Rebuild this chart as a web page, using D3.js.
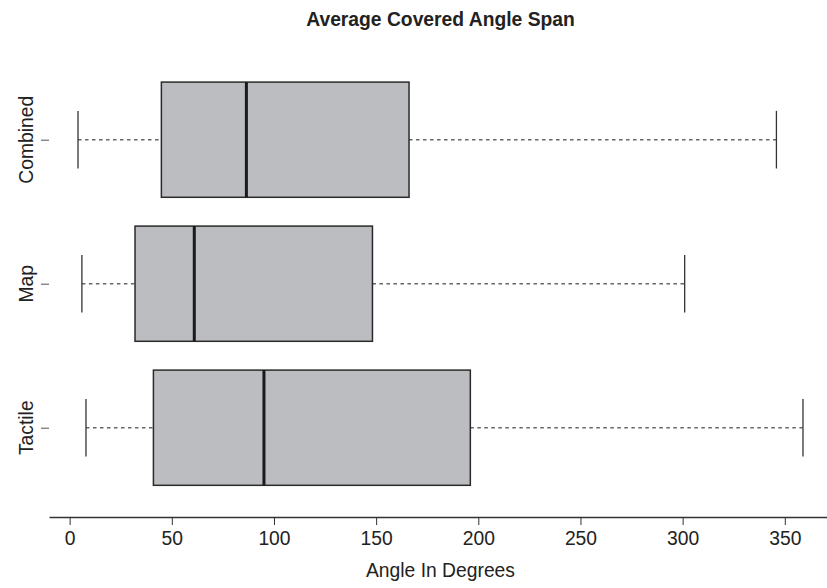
<!DOCTYPE html>
<html>
<head>
  <meta charset="utf-8">
  <script src="https://d3js.org/d3.v7.min.js"></script>
  <style>
    body { margin: 0; background: #fff; }
    text { font-family: "Liberation Sans", Arial, sans-serif; fill: #222; }
    .x.axis .domain { stroke: #333; stroke-width: 1.3px; }
    .x.axis line { stroke: #333; }
    .y.axis line { stroke: #555; }
    .y.axis .domain { stroke: none; }
  </style>
</head>
<body>
  <svg id="chart" width="827" height="588"></svg>
  <script>
    // data, bottom group first
    const categories = ["Tactile", "Map", "Combined"];
    const lowWhisker = [8.0, 6.0, 4.1];
    const q1 = [41.0, 32.0, 44.9];
    const median = [95.1, 61.0, 86.5];
    const q3 = [196.1, 148.2, 166.1];
    const highWhisker = [358.9, 301.0, 345.9];
    const xTicks = [0, 50, 100, 150, 200, 250, 300, 350];

    const svg = d3.select("svg#chart");
    const plot = { left: 49, right: 832, top: 50.4, bottom: 517 };

    const x = d3.scaleLinear().domain([-10.1, 373.1]).range([plot.left, plot.right]);
    const y = d3.scaleLinear().domain([0.38, 3.62]).range([plot.bottom, plot.top]);
    const boxWex = 0.8;

    const data = categories.map((c, i) => ({
      name: c, pos: i + 1,
      lo: lowWhisker[i], q1: q1[i], med: median[i], q3: q3[i], hi: highWhisker[i]
    }));

    // x axis
    svg.append("g")
      .attr("class", "x axis")
      .attr("transform", "translate(0," + plot.bottom + ")")
      .call(d3.axisBottom(x).tickValues(xTicks).tickSize(8).tickPadding(6).tickSizeOuter(0))
      .selectAll("text")
      .style("font-size", "19.3px")
      .style("fill", "#222");

    // y axis ticks only
    const yAxis = svg.append("g")
      .attr("class", "y axis")
      .attr("transform", "translate(" + plot.left + ",0)")
      .call(d3.axisLeft(y).tickValues(data.map(d => d.pos)).tickSize(8).tickFormat(""));

    svg.selectAll("text.ylab").data(data)
      .join("text")
      .attr("class", "ylab")
      .attr("transform", d => "translate(33," + y(d.pos) + ") rotate(-90)")
      .attr("text-anchor", "middle")
      .style("font-size", "19.3px")
      .text(d => d.name);

    const groups = svg.append("g").attr("id", "boxes")
      .selectAll("g").data(data).join("g");

    // dashed whiskers
    groups.append("line")
      .attr("x1", d => x(d.lo)).attr("x2", d => x(d.q1))
      .attr("y1", d => y(d.pos)).attr("y2", d => y(d.pos))
      .style("stroke", "#666").style("stroke-width", 1.5)
      .style("stroke-dasharray", "3.5,3.5");
    groups.append("line")
      .attr("x1", d => x(d.q3)).attr("x2", d => x(d.hi))
      .attr("y1", d => y(d.pos)).attr("y2", d => y(d.pos))
      .style("stroke", "#666").style("stroke-width", 1.5)
      .style("stroke-dasharray", "3.5,3.5");

    // staples
    ["lo", "hi"].forEach(k => {
      groups.append("line")
        .attr("x1", d => x(d[k])).attr("x2", d => x(d[k]))
        .attr("y1", d => y(d.pos + boxWex / 4)).attr("y2", d => y(d.pos - boxWex / 4))
        .style("stroke", "#333").style("stroke-width", 1.3);
    });

    // boxes
    groups.append("rect")
      .attr("x", d => x(d.q1))
      .attr("y", d => y(d.pos + boxWex / 2))
      .attr("width", d => x(d.q3) - x(d.q1))
      .attr("height", d => y(d.pos - boxWex / 2) - y(d.pos + boxWex / 2))
      .style("fill", "#bcbdc1")
      .style("stroke", "#2a2a2a")
      .style("stroke-width", 1.5);

    // medians
    groups.append("line")
      .attr("x1", d => x(d.med)).attr("x2", d => x(d.med))
      .attr("y1", d => y(d.pos + boxWex / 2)).attr("y2", d => y(d.pos - boxWex / 2))
      .style("stroke", "#1a1a1a").style("stroke-width", 3);

    // titles
    svg.append("text")
      .text("Average Covered Angle Span")
      .attr("x", (plot.left + plot.right) / 2)
      .attr("y", 26)
      .attr("text-anchor", "middle")
      .style("font-size", "19.3px")
      .style("font-weight", "bold");

    svg.append("text")
      .text("Angle In Degrees")
      .attr("x", (plot.left + plot.right) / 2)
      .attr("y", 577)
      .attr("text-anchor", "middle")
      .style("font-size", "19.3px");
  </script>
</body>
</html>
